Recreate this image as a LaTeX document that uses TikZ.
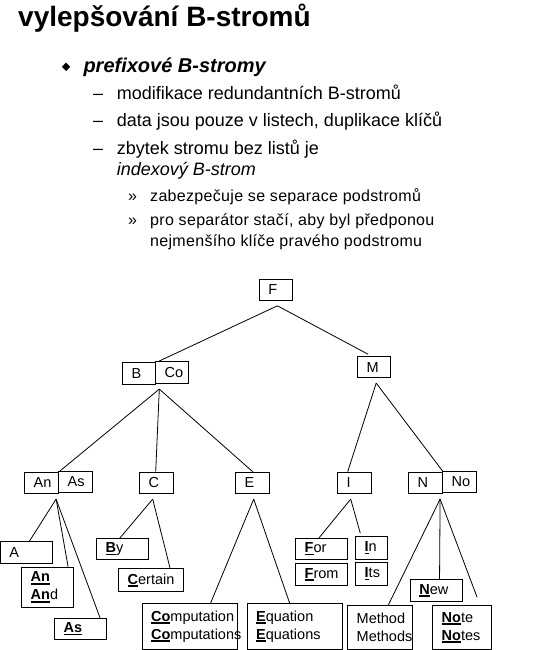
\documentclass[tikz,border=0pt]{standalone}
\usepackage{fontspec}
\setmainfont{Liberation Sans}

% bold, underlined key prefix
\newcommand\keypart[1]{\leavevmode\begingroup\setbox0=\hbox{\bfseries #1}%
  \rlap{\rule[-2.6pt]{\wd0}{1.6pt}}\box0\endgroup}

\begin{document}
\begin{tikzpicture}[x=1pt,y=-1pt,
    cell/.style 2 args={draw, line width=0.8pt, anchor=north west,
      inner xsep=9pt, inner ysep=0pt, align=left,
      text width=#1pt, minimum height=#2pt,
      font=\fontsize{14.5}{18}\selectfont},
    conn/.style={line width=0.8pt},
    txt/.style={anchor=base west, inner sep=0pt},
    small/.style={txt, font=\fontsize{16}{20}\selectfont\addfontfeature{LetterSpace=2}}]
    \useasboundingbox (0,0) rectangle (540,650);

    % Title and text
    \node[txt, font=\fontsize{28}{32}\selectfont\bfseries] (title) at (18,27) {vylepšování B-stromů};
    \fill (66,62.6) -- (70.2,66.8) -- (66,71) -- (61.8,66.8) -- cycle;
    \node[txt, font=\fontsize{20}{24}\selectfont\bfseries\itshape] (pref) at (83.3,72.7) {prefixové B-stromy};

    \foreach \y/\t in {100/modifikace redundantních B-stromů,
        127/{data jsou pouze v listech, duplikace klíčů},
        154/zbytek stromu bez listů je}{
        \node[txt, font=\fontsize{18}{22}\selectfont] at (93,\y) {–};
        \node[txt, font=\fontsize{18}{22}\selectfont] at (116.7,\y) {\t};
    }
    \node[txt, font=\fontsize{18}{22}\selectfont\itshape] (idx) at (116.7,175.7) {indexový B-strom};

    \node[small] (r1) at (128,201.7) {»};
    \node[small] (s1) at (150,201.7) {zabezpečuje se separace podstromů};
    \node[small] (r2) at (128,225) {»};
    \node[small] (s2) at (150,225) {pro separátor stačí, aby byl předponou};
    \node[small] (s3) at (150,246.7) {nejmenšího klíče pravého podstromu};

    % Index part
    \node[cell={15}{21}] (F) at (259,279) {F};
    \node[cell={15}{22}] (B) at (122.3,362.3) {B};
    \node[cell={14.7}{22.3}] (Co) at (155.3,361) {Co};
    \node[cell={15}{21}] (M) at (357.3,356.3) {M};
    \node[cell={16}{21.6}] (An) at (24.3,471.7) {An};
    \node[cell={16}{21.3}] (As) at (58.3,471) {As};
    \node[cell={16}{21.6}] (C) at (139.3,471.7) {C};
    \node[cell={16}{21.6}] (E) at (235.3,471.7) {E};
    \node[cell={16}{21.6}] (I) at (337.3,471.7) {I};
    \node[cell={16}{21.6}] (N) at (408.3,471.7) {N};
    \node[cell={16}{21.3}] (No) at (442.3,471) {No};

    % Leaves
    \node[cell={34.3}{22.3}] (A) at (0,541) {A};
    \node[cell={34}{40.3}] (AnAnd) at (21.3,566.7) {\keypart{An}\\\keypart{An}d};
    \node[cell={34}{21.3}] (AsLf) at (54.3,618) {\keypart{As}};
    \node[cell={34}{21}] (By) at (96.3,538.3) {\keypart{B}y};
    \node[cell={47}{22.7}] (Certain) at (118.3,568.3) {\keypart{C}ertain};
    \node[cell={77}{46}] (Comp) at (141.7,603.3) {\keypart{Co}mputation\\\keypart{Co}mputations};
    \node[cell={77.6}{46}] (Equ) at (246.7,603.3) {\keypart{E}quation\\\keypart{E}quations};
    \node[cell={34}{21}] (For) at (295.3,538.3) {\keypart{F}or};
    \node[cell={34}{22}] (From) at (295.3,563.3) {\keypart{F}rom};
    \node[cell={14}{23}] (In) at (355.3,536.3) {\keypart{I}n};
    \node[cell={14}{23}] (Its) at (355.3,562.3) {\keypart{I}ts};
    \node[cell={34.3}{22.3}] (New) at (410,579) {\keypart{N}ew};
    \node[cell={47}{44}] (Method) at (347.3,605.3) {Method\\Methods};
    \node[cell={41}{44}] (Note) at (432.3,605.3) {\keypart{No}te\\\keypart{No}tes};

    % Branch points
    \coordinate (jF) at ([xshift=1.5pt,yshift=-5pt]F.south);
    \coordinate (jB) at ([xshift=4pt,yshift=-5pt]Co.south west);
    \coordinate (jM) at ([xshift=2pt,yshift=-5pt]M.south);
    \coordinate (jAn) at ([xshift=-3pt,yshift=-5pt]An.south east);
    \coordinate (jC) at ([xshift=-4pt,yshift=-5pt]C.south);
    \coordinate (jE) at ([xshift=1pt,yshift=-5pt]E.south);
    \coordinate (jI) at ([xshift=-4pt,yshift=-5pt]I.south);
    \coordinate (jN) at ([xshift=-3pt,yshift=-5pt]N.south east);

    % Connectors
    \draw[conn] (jF) -- ([xshift=4pt]Co.north west);
    \draw[conn] (jF) -- ([xshift=-6pt,yshift=2pt]M.north);
    \draw[conn] (jB) -- (An.north east);
    \draw[conn] (jB) -- ([xshift=-1pt]C.north);
    \draw[conn] (jB) -- (E.north);
    \draw[conn] (jM) -- ([xshift=-7pt]I.north);
    \draw[conn] (jM) -- (N.north east);
    \draw[conn] (jAn) -- ([xshift=3pt]A.north);
    \draw[conn] (jAn) -- ([xshift=-6pt]AnAnd.north east);
    \draw[conn] (jAn) -- ([xshift=-7pt]AsLf.north east);
    \draw[conn] (jC) -- ([xshift=-3pt]By.north);
    \draw[conn] (jC) -- ([xshift=-14pt]Certain.north east);
    \draw[conn] (jE) -- ([xshift=-27pt]Comp.north east);
    \draw[conn] (jE) -- ([xshift=43pt]Equ.north west);
    \draw[conn] (jI) -- ([xshift=-3pt]For.north);
    \draw[conn] (jI) -- ([xshift=5pt,yshift=3pt]In.north west);
    \draw[conn] (jN) -- ([xshift=8pt]Method.north);
    \draw[conn] (jN) -- ([xshift=3pt]New.north);
    \draw[conn] (jN) -- ([xshift=-15pt,yshift=8pt]Note.north east);
\end{tikzpicture}
\end{document}
